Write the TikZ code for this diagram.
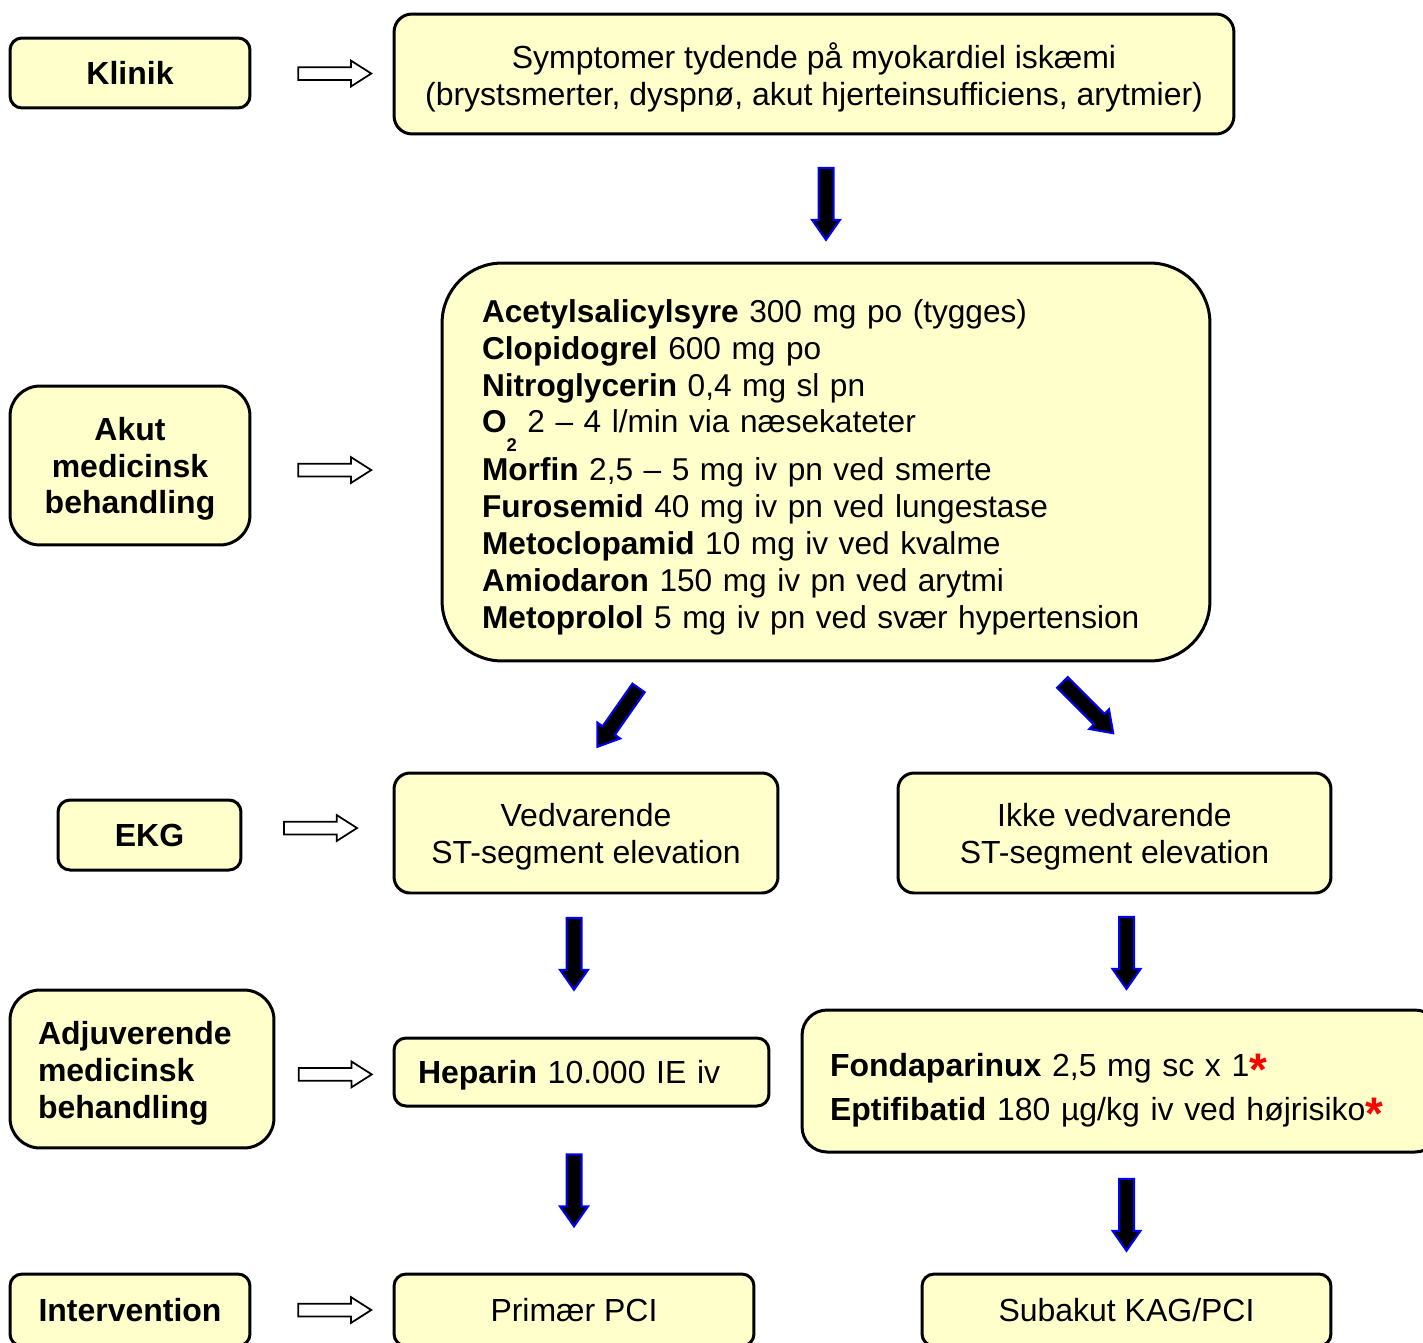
\documentclass[tikz,border=0pt]{standalone}
\usepackage{fontspec}
\setmainfont{Liberation Sans}
\usetikzlibrary{shapes.arrows}
\definecolor{boxfill}{HTML}{FFFFCC}
\newcommand{\stjerne}{\raisebox{-5pt}{\textcolor{red}{\fontsize{26}{21}\selectfont\textbf{*}}}}

\begin{document}
\begin{tikzpicture}[x=0.02cm,y=-0.02cm,
    box/.style={draw=black,fill=boxfill,line width=0.06cm,rounded corners=0.32cm,align=center,inner sep=0pt,font=\fontsize{18.2}{21}\selectfont},
    flat/.style={text depth=0pt},
    stagebox/.style={box,font=\fontsize{18.2}{21}\selectfont\bfseries},
    hollowarrow/.style={single arrow,draw=black,fill=white,line width=0.035cm,minimum height=1.46cm,minimum width=0.48cm,single arrow head extend=0.13cm,single arrow tip angle=65,inner xsep=0pt,inner ysep=0.11cm},
    fatarrow/.style={single arrow,draw=blue,fill=black,line width=0.04cm,minimum height=1.44cm,minimum width=0.52cm,single arrow head extend=0.13cm,single arrow tip angle=70,inner xsep=0pt,inner ysep=0.13cm}]
  \useasboundingbox (0,0) rectangle (1423,1342);

  \node[stagebox,flat,minimum width=4.8cm,minimum height=1.4cm,rounded corners=0.24cm] (klinik) at (130,73) {Klinik};
  \node[box,flat,minimum width=16.8cm,minimum height=2.4cm,rounded corners=0.36cm] (symp) at (814,74) {Symptomer tydende på myokardiel iskæmi\\(brystsmerter, dyspnø, akut hjerteinsufficiens, arytmier)};

  \node[stagebox,flat,minimum width=4.8cm,minimum height=3.18cm,rounded corners=0.6cm] (akut) at (130,465.5) {Akut\\medicinsk\\behandling};
  \node[box,minimum width=15.36cm,minimum height=7.96cm,rounded corners=1.2cm,align=left,text width=13.76cm,font=\fontsize{18}{21}\selectfont] (drug) at (826,462) {%
    \textbf{Acetylsalicylsyre} 300 mg po (tygges)\\
    \textbf{Clopidogrel} 600 mg po\\
    \textbf{Nitroglycerin} 0,4 mg sl pn\\
    \textbf{O}\raisebox{-10.5pt}{\fontsize{10.5}{10.5}\selectfont\textbf{2}} 2 – 4 l/min via næsekateter\\[2.5pt]
    \textbf{Morfin} 2,5 – 5 mg iv pn ved smerte\\
    \textbf{Furosemid} 40 mg iv pn ved lungestase\\
    \textbf{Metoclopamid} 10 mg iv ved kvalme\\
    \textbf{Amiodaron} 150 mg iv pn ved arytmi\\
    \textbf{Metoprolol} 5 mg iv pn ved svær hypertension\par\kern-5.7pt};

  \node[stagebox,flat,minimum width=3.66cm,minimum height=1.4cm,rounded corners=0.24cm] (ekg) at (149.5,835) {EKG};
  \node[box,flat,minimum width=7.68cm,minimum height=2.4cm] (ved) at (586,833) {Vedvarende\\ST-segment elevation};
  \node[box,flat,minimum width=8.66cm,minimum height=2.4cm] (ikke) at (1114.5,833) {Ikke vedvarende\\ST-segment elevation};

  \node[stagebox,minimum width=5.28cm,minimum height=3.16cm,rounded corners=0.6cm,align=left,text width=4.16cm] (adj) at (142,1069) {Adjuverende\\medicinsk\\behandling\par\kern-4.5pt};
  \node[box,flat,minimum width=7.5cm,minimum height=1.36cm,rounded corners=0.24cm,align=left,text width=6.54cm] (hep) at (581.5,1072) {\textbf{Heparin} 10.000 IE iv};
  \node[box,minimum width=12.76cm,minimum height=2.84cm,rounded corners=0.5cm,align=left,text width=11.64cm] (fonda) at (1121,1081) {\textbf{Fondaparinux} 2,5 mg sc x 1\stjerne\\[4pt]\textbf{Eptifibatid} 180 µg/kg iv ved højrisiko\stjerne\par\kern-12pt};

  \node[stagebox,flat,minimum width=4.8cm,minimum height=1.44cm,rounded corners=0.24cm] (interv) at (130,1310) {Intervention};
  \node[box,flat,minimum width=7.2cm,minimum height=1.44cm,rounded corners=0.24cm] (prim) at (574,1310) {Primær PCI};
  \node[box,flat,minimum width=8.18cm,minimum height=1.44cm,rounded corners=0.24cm] (sub) at (1126.5,1310) {Subakut KAG/PCI};

  % hule pile
  \path (klinik.east) -- node[hollowarrow,pos=0.555] (h1) {} (symp.west);
  \path (akut.east) -- node[hollowarrow,pos=0.414,yshift=-0.12cm] (h2) {} (drug.west);
  \path (ekg.east) -- node[hollowarrow,pos=0.487,yshift=0.12cm] (h3) {} (ved.west);
  \path (adj.east) -- node[hollowarrow,pos=0.468,yshift=-0.08cm] (h4) {} (hep.west);
  \path (interv.east) -- node[hollowarrow,pos=0.555] (h5) {} (prim.west);

  % sorte pile
  \path (symp.south -| drug.north) -- node[fatarrow,rotate=-90] (f1) {} (drug.north);
  \node[fatarrow,rotate=235] (f2) at (621,713) {};
  \node[fatarrow,rotate=-45] (f3) at (1084,704) {};
  \path (ved.south -| prim) -- node[fatarrow,rotate=-90,pos=0.38] (f4) {} (hep.north -| prim);
  \path (ikke.south -| sub) -- node[fatarrow,rotate=-90,pos=0.466] (f5) {} (fonda.north -| sub);
  \path (hep.south -| prim) -- node[fatarrow,rotate=-90,pos=0.47] (f6) {} (prim.north);
  \path (fonda.south -| sub) -- node[fatarrow,rotate=-90,pos=0.47] (f7) {} (sub.north);
\end{tikzpicture}
\end{document}
